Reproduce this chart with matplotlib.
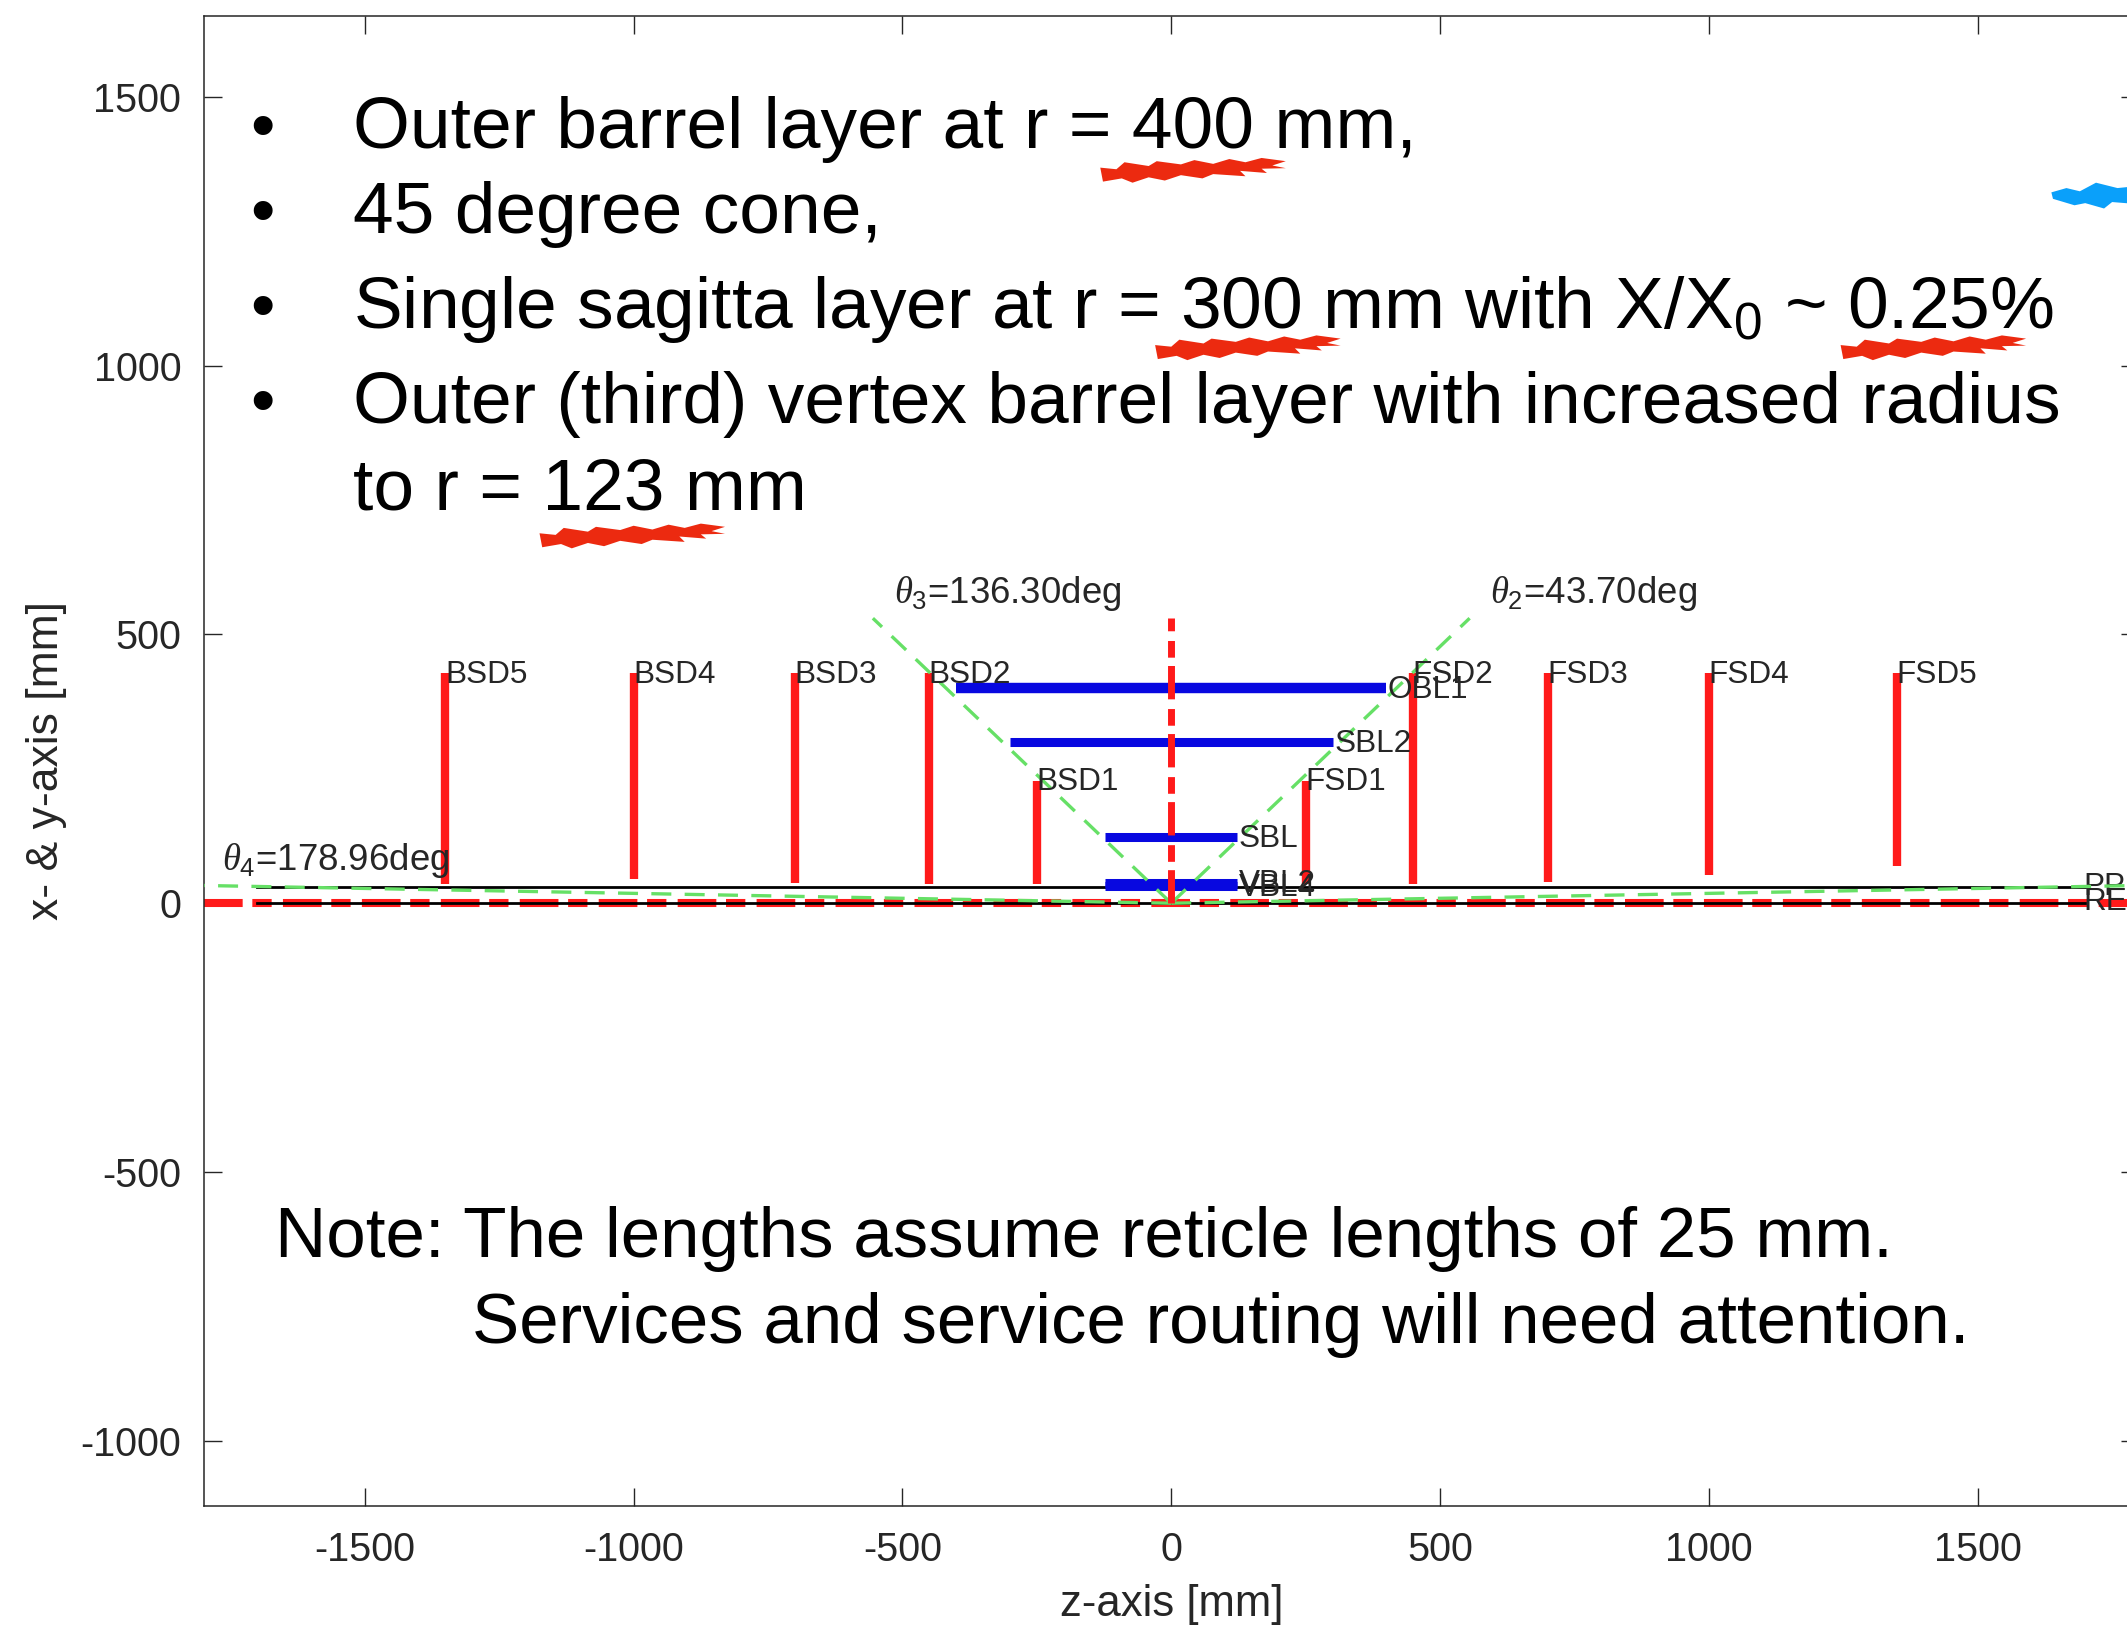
import matplotlib
matplotlib.use('Agg')
from matplotlib import pyplot as plt

plt.rcParams['font.family'] = ['Liberation Sans', 'DejaVu Sans']
plt.rcParams['mathtext.fontset'] = 'custom'
plt.rcParams['mathtext.rm'] = 'Liberation Sans'
plt.rcParams['mathtext.it'] = 'Liberation Serif:italic'
plt.rcParams['mathtext.default'] = 'regular'
plt.rcParams['axes.unicode_minus'] = False

# disks: z position, lower and upper radius
disk_names = ['BSD5', 'BSD4', 'BSD3', 'BSD2', 'BSD1', 'FSD1', 'FSD2', 'FSD3', 'FSD4', 'FSD5']
disk_z = [-1350, -1000, -700, -450, -250, 250, 450, 700, 1000, 1350]
disk_rmin = [35, 45, 38, 35, 35, 35, 35, 40, 53, 70]
disk_rmax = [428, 428, 428, 428, 228, 228, 428, 428, 428, 428]

# barrels: half length and radius
barrel_names = ['OBL1', 'SBL2', 'SBL', 'VBL2', 'VBL4']
barrel_half = [400, 300, 123, 123, 123]
barrel_r = [400, 300, 123, 38, 32]
barrel_lw = [7.5, 6.5, 6.5, 6.5, 6.5]

# acceptance lines
cone_z = [-555, -1800, 555, 1800]
cone_r = [530, 33, 530, 33]

center_top = 530
line_left = -1700
line_right = 1700
pipe_r = 30

tick_x = [-1500, -1000, -500, 0, 500, 1000, 1500]
tick_y = [-1000, -500, 0, 500, 1000, 1500]

# hand-drawn underlines on the slide, left ends in data coordinates
scribble_z = [-132, -30, 1245, -1175]
scribble_r = [1362, 1032, 1032, 682]
scribble_shape_x = [0, 30, 45, 90, 105, 150, 175, 210, 240, 270, 300, 345, 320, 345, 300, 310,
                    260, 270, 210, 190, 150, 120, 90, 60, 40, 5, 0]
scribble_shape_y = [6, 3, 16, 9, 18, 12, 20, 13, 22, 16, 24, 18, 10, 5, 4, -4, 0, -10, -6,
                    -14, -8, -18, -12, -22, -14, -20, 6]
blue_z = [1637, 1665, 1690, 1720, 1760, 1800, 1800, 1750, 1735, 1700, 1680, 1640]
blue_r = [1322, 1330, 1324, 1340, 1330, 1334, 1300, 1304, 1292, 1302, 1298, 1310]

fig = plt.figure(figsize=(21.27, 16.29), dpi=100, facecolor='white')
W, H = 2127.0, 1629.0
ax = fig.add_axes([203.5 / W, 1 - 1506 / H, (2139 - 203.5) / W, (1506 - 16) / H])
ax.set_xlim(-1800, 1800)
ax.set_ylim(-1121, 1650)

grey = '#262626'
red = '#ff1a1a'
green = '#66e066'
dash_dot = (4.8, 1.2, 2.4, 1.4)

ax.plot([-1800, 1800], [0, 0], color=red, lw=5.8, dashes=dash_dot, zorder=2)
ax.plot([line_left, line_right], [0, 0], color='black', lw=2, zorder=3)
ax.plot([line_left, line_right], [pipe_r, pipe_r], color='black', lw=2, zorder=3)

for i in range(len(cone_z)):
    ax.plot([0, cone_z[i]], [0, cone_r[i]], color=green, lw=2.4, ls=(0, (6, 4)), zorder=4)

for i in range(len(disk_z)):
    ax.plot([disk_z[i], disk_z[i]], [disk_rmin[i], disk_rmax[i]], color=red, lw=6,
            solid_capstyle='butt', zorder=2)
    ax.text(disk_z[i] - 1, disk_rmax[i] - 3, disk_names[i], fontsize=22.7, color=grey,
            va='center', ha='left', zorder=6)

for i in range(len(barrel_half)):
    ax.plot([-barrel_half[i], barrel_half[i]], [barrel_r[i], barrel_r[i]], color='#0808e0',
            lw=barrel_lw[i], solid_capstyle='butt', zorder=3)
    ax.text(barrel_half[i] + 3, barrel_r[i] - 3, barrel_names[i], fontsize=22.7, color=grey,
            va='center', ha='left', zorder=6)

ax.plot([0, 0], [0, center_top], color=red, lw=5, dashes=dash_dot, zorder=4)

ax.text(1697, 30, 'PP', fontsize=22.7, color=grey, va='center', ha='left')
ax.text(1697, 3, 'RE', fontsize=22.7, color=grey, va='center', ha='left')

ax.text(-515, 558, r'$\mathit{\theta}_3$=136.30deg', fontsize=26.4, color=grey, va='baseline')
ax.text(592, 558, r'$\mathit{\theta}_2$=43.70deg', fontsize=26.4, color=grey, va='baseline')
ax.text(-1765, 62, r'$\mathit{\theta}_4$=178.96deg', fontsize=26.4, color=grey, va='baseline')

ax.set_xticks(tick_x)
ax.set_yticks(tick_y)
ax.tick_params(direction='in', length=13, width=1, top=True, right=True, colors=grey,
               labelsize=28.5, pad=16)
ax.tick_params(axis='x', pad=18)
for s in ax.spines.values():
    s.set_color(grey)
    s.set_linewidth(1.1)
ax.set_xlabel('z-axis [mm]', fontsize=31.5, color=grey, labelpad=11)
ax.set_ylabel('x- & y-axis [mm]', fontsize=32, color=grey, labelpad=10)

# slide text on top of the plot
slide_lines = ['Outer barrel layer at r = 400 mm,', '45 degree cone,',
               'Single sagitta layer at r = 300 mm with X/X$_0$ ~ 0.25%',
               'Outer (third) vertex barrel layer with increased radius', 'to r = 123 mm']
slide_base = [148, 233, 328, 423, 510]
bullets = [True, True, True, True, False]
for i in range(len(slide_lines)):
    fig.text(353 / W, 1 - slide_base[i] / H, slide_lines[i], fontsize=52.7, color='black', va='baseline')
    if bullets[i]:
        fig.text(262 / W, 1 - slide_base[i] / H, '•', fontsize=50, color='black', va='baseline', ha='center')

note_lines = ['Note: The lengths assume reticle lengths of 25 mm.', 'Services and service routing will need attention.']
note_x = [275, 472]
note_base = [1257, 1343]
for i in range(len(note_lines)):
    fig.text(note_x[i] / W, 1 - note_base[i] / H, note_lines[i], fontsize=51, color='black', va='baseline')

for i in range(len(scribble_z)):
    ax.fill([scribble_z[i] + v for v in scribble_shape_x],
            [scribble_r[i] + v for v in scribble_shape_y], color='#ec2a10', lw=0, zorder=7)
ax.fill(blue_z, blue_r, color='#0aa0fa', lw=0, zorder=7)

fig.savefig('out.png', dpi=100)
